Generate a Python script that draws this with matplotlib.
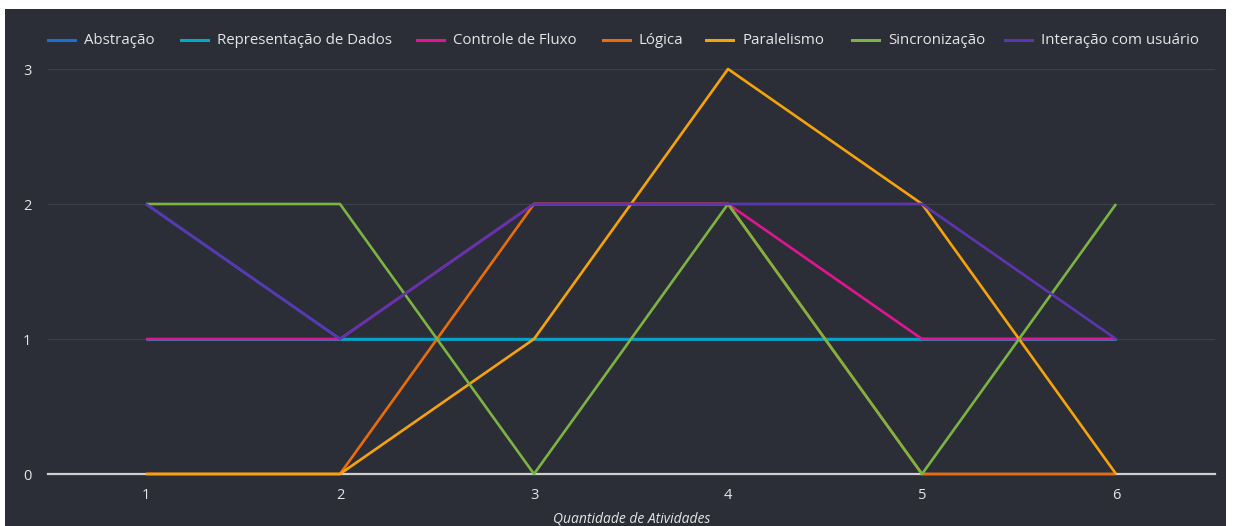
import matplotlib.pyplot as plt
from matplotlib.patches import Rectangle
from matplotlib.lines import Line2D

# Data
atividades = [1, 2, 3, 4, 5, 6]
series_names = [
    "Abstração",
    "Representação de Dados",
    "Controle de Fluxo",
    "Lógica",
    "Paralelismo",
    "Sincronização",
    "Interação com usuário",
]
abstracao = [2, 1, 1, 1, 1, 1]
representacao = [1, 1, 1, 1, 1, 1]
controle_fluxo = [1, 1, 2, 2, 1, 1]
logica = [0, 0, 2, 2, 0, 0]
paralelismo = [0, 0, 1, 3, 2, 0]
sincronizacao = [2, 2, 0, 2, 0, 2]
interacao = [2, 1, 2, 2, 2, 1]
y_ticks = [0, 1, 2, 3]

colors = ["#1a6fd6", "#00a9c6", "#e0158f", "#ea6d0b", "#f5a30c", "#7cb342", "#5e35b1"]
series = [abstracao, representacao, controle_fluxo, logica, paralelismo, sincronizacao, interacao]

# legend item left edges (pixels) as laid out in the reference
legend_x = [48, 181, 417, 603, 706, 852, 1005]

plt.rcParams["font.family"] = ["Open Sans", "DejaVu Sans"]

W, H = 1236, 526
BG = "#2b2e37"
TXT = "#e6e6e6"

fig = plt.figure(figsize=(W / 100, H / 100), dpi=100, facecolor="white")
fig.patches.append(Rectangle((5 / W, 0), 1221 / W, 1 - 9 / H,
                             transform=fig.transFigure, facecolor=BG,
                             edgecolor="none", zorder=-10))

ax = fig.add_axes([48 / W, 1 - 474 / H, (1215 - 48) / W, (474 - 69) / H])
ax.set_facecolor(BG)

for name, values, color in zip(series_names, series, colors):
    ax.plot(atividades, values, color=color, linewidth=1.9, label=name,
            solid_capstyle="butt", zorder=3, clip_on=False)

ax.set_xlim(0.495, 6.51)
ax.set_ylim(0, 3)
ax.set_xticks(atividades)
ax.set_yticks(y_ticks)
ax.set_xticklabels([str(v) for v in atividades])
ax.set_yticklabels([str(v) for v in y_ticks])
ax.tick_params(axis="both", length=0, colors=TXT, labelsize=10.5)
ax.tick_params(axis="x", pad=10)
ax.tick_params(axis="y", pad=12)

for y in y_ticks[1:]:
    ax.axhline(y, color="#3c3f48", linewidth=0.9, zorder=1)
ax.axhline(0, color="#cfcfcf", linewidth=1.6, zorder=2, clip_on=False)

for side in ax.spines.values():
    side.set_visible(False)

fig.text(632 / W, 1 - 519 / H, "Quantidade de Atividades", color=TXT,
         fontsize=10, style="italic", ha="center", va="center")

# legend drawn item by item so it fits the reference row
ly = 1 - 40 / H
for name, color, x0 in zip(series_names, colors, legend_x):
    fig.add_artist(Line2D([x0 / W, (x0 + 27) / W], [ly, ly], color=color,
                          linewidth=2.2, transform=fig.transFigure))
    fig.text((x0 + 36) / W, ly, name, color=TXT, fontsize=10.8,
             ha="left", va="center")

fig.savefig("out.png", dpi=100, facecolor="white")
